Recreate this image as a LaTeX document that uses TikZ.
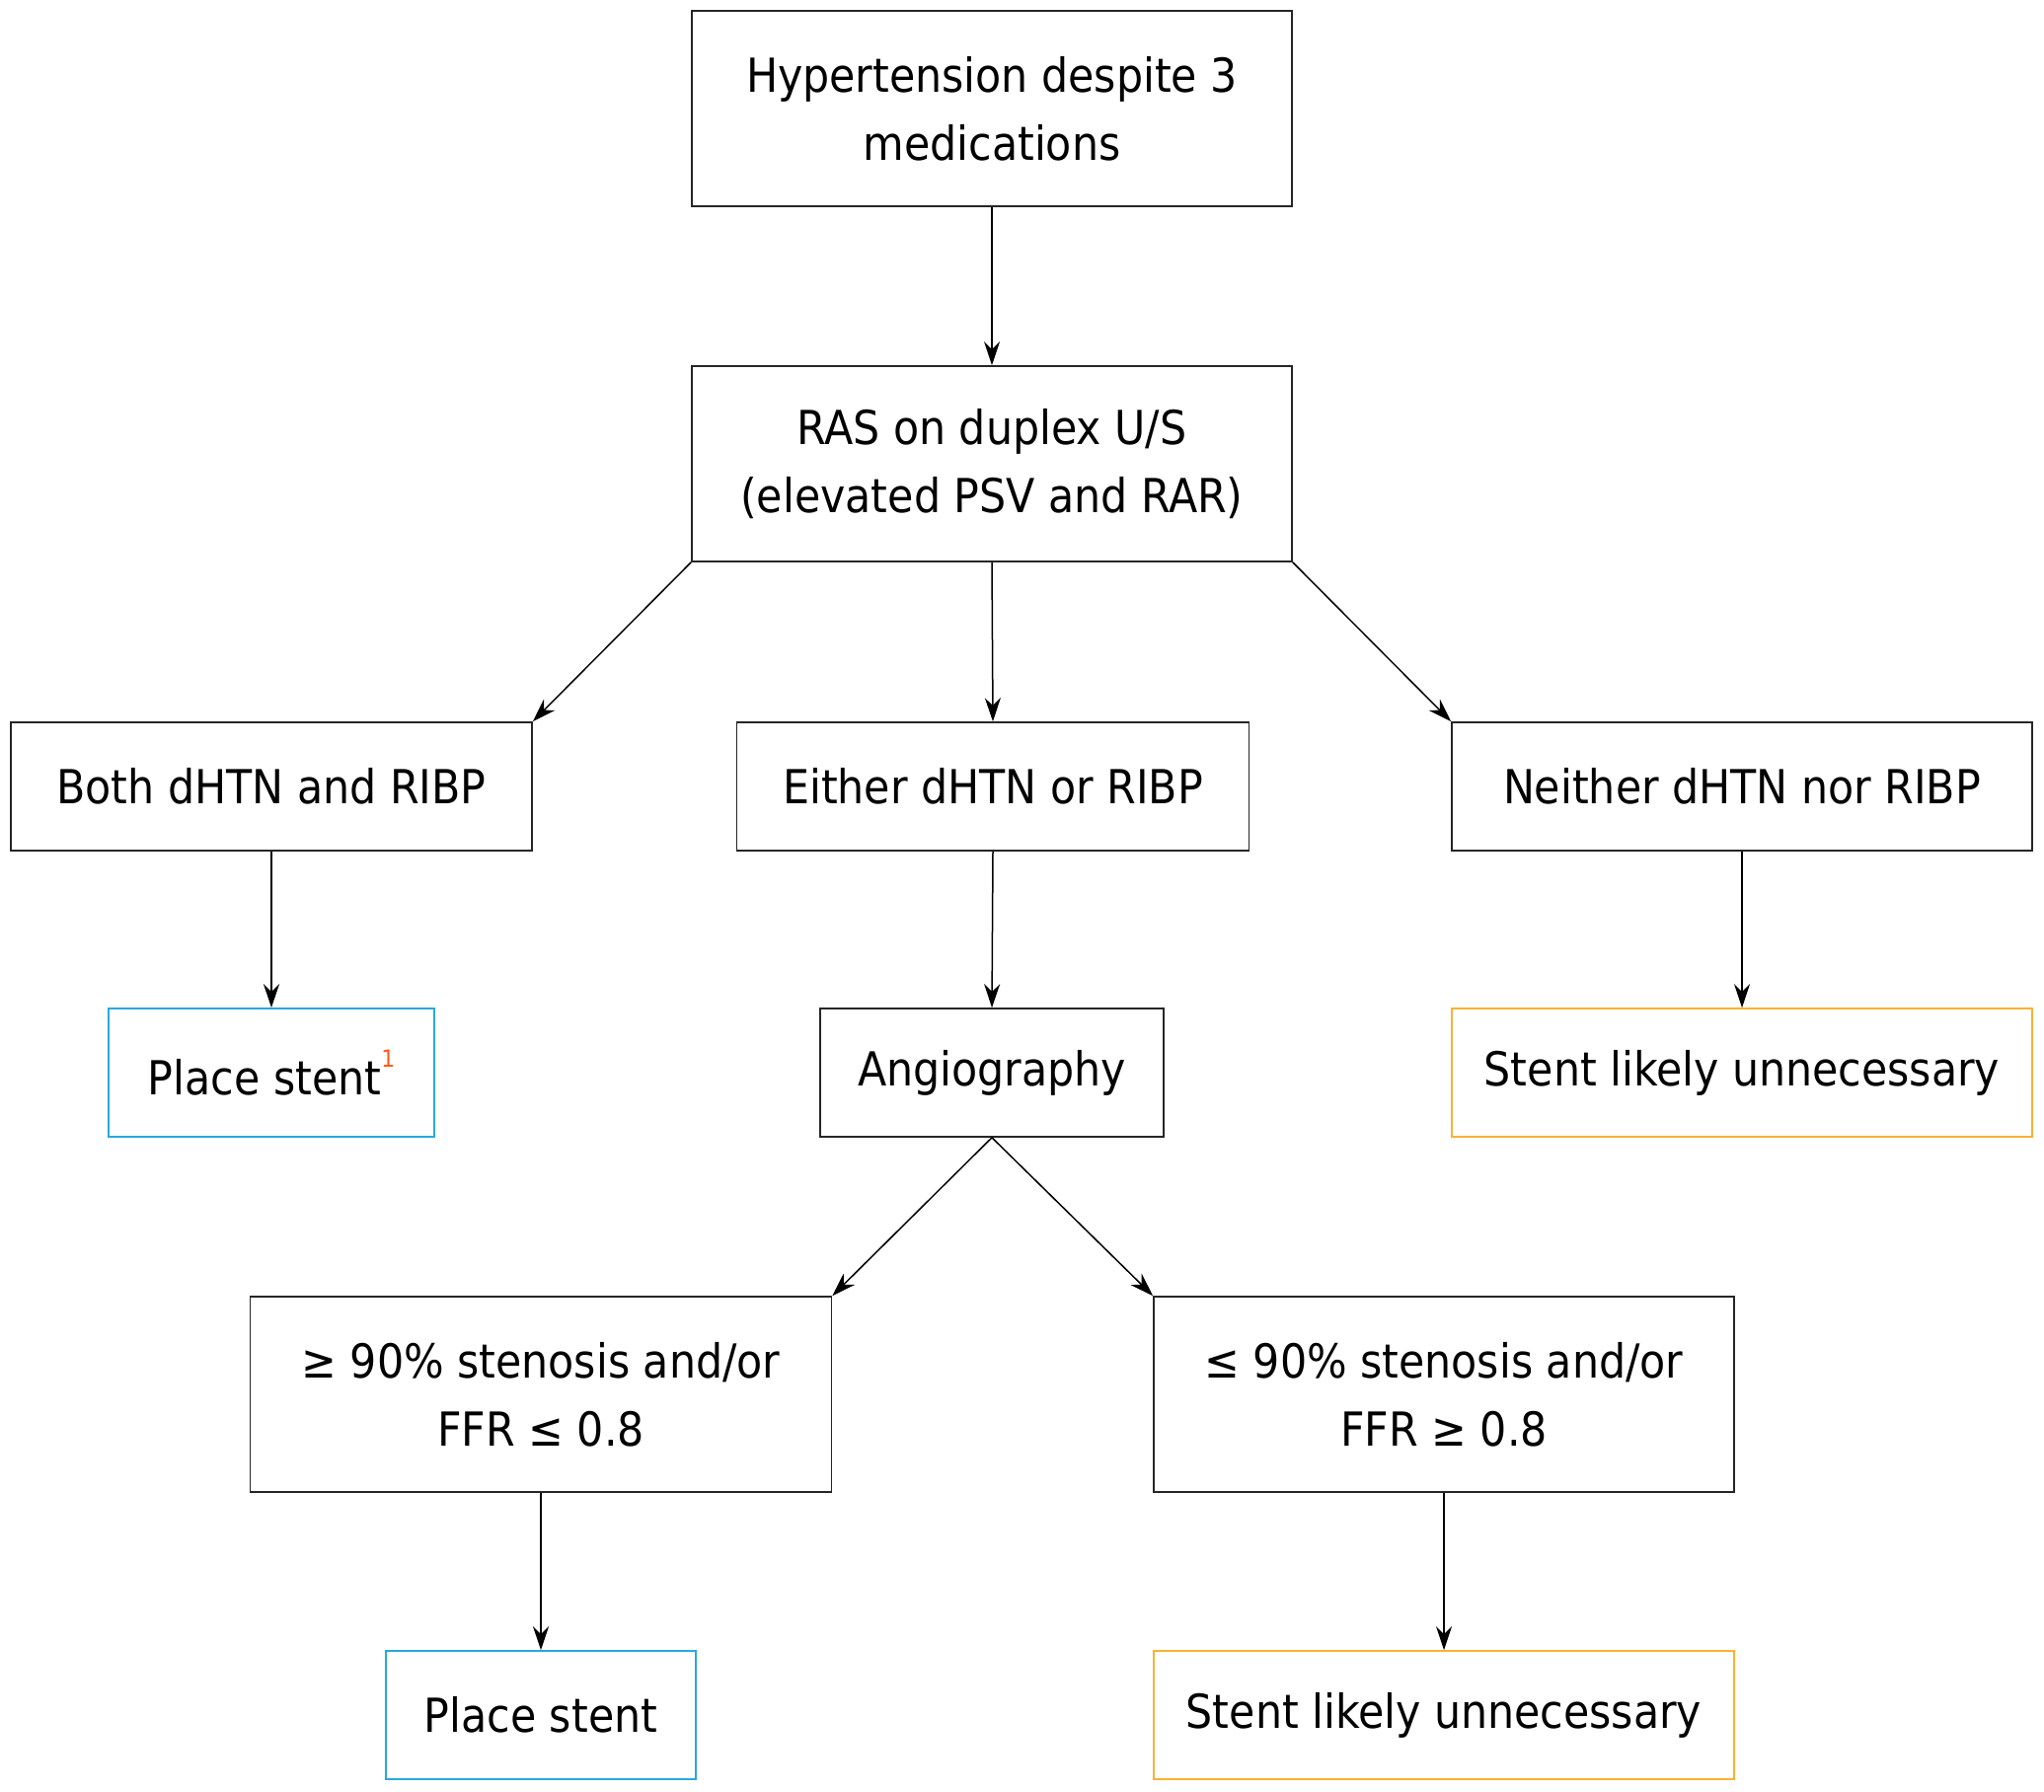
\documentclass[tikz,border=0pt]{standalone}
\usepackage{fontspec}
\setmainfont{DejaVu Sans Condensed}
\usetikzlibrary{arrows.meta}
\definecolor{bluebox}{HTML}{29A8E0}
\definecolor{orangebox}{HTML}{F9B233}
\definecolor{supcol}{HTML}{FF5A1A}
\begin{document}
\begin{tikzpicture}[x=1pt,y=-1pt,
  box/.style={draw=black!85,line width=1.6pt,rectangle,inner sep=0pt,align=center,
    font=\fontsize{47.5}{69}\selectfont},
  bluebx/.style={box,draw=bluebox},
  orbx/.style={box,draw=orangebox},
  arr/.style={-{Stealth[length=24pt,width=16pt]},line width=1.5pt,black}]
\fill[white] (0,0) rectangle (2071,1815);
\useasboundingbox (0,0) rectangle (2071,1815);
\node[box,minimum width=608pt,minimum height=198pt] (top) at (1005,110) {Hypertension despite 3\\medications};
\node[box,minimum width=608pt,minimum height=198pt] (ras) at (1005,470) {RAS on duplex U/S\\(elevated PSV and RAR)};
\node[box,minimum width=528pt,minimum height=130pt] (both) at (275,797) {Both dHTN and RIBP};
\node[box,minimum width=519pt,minimum height=130pt] (either) at (1006,797) {Either dHTN or RIBP};
\node[box,minimum width=588pt,minimum height=130pt] (neither) at (1765,797) {Neither dHTN nor RIBP};
\node[bluebx,minimum width=330pt,minimum height=130pt] (stent1) at (275,1087) {Place stent\raisebox{0.6em}{\fontsize{24}{24}\selectfont\color{supcol}1}};
\node[box,minimum width=348pt,minimum height=130pt] (angio) at (1005,1087) {Angiography};
\node[orbx,minimum width=588pt,minimum height=130pt] (unn1) at (1765,1087) {Stent likely unnecessary};
\node[box,minimum width=589pt,minimum height=198pt] (ge) at (548,1413) {≥ 90\% stenosis and/or\\FFR ≤ 0.8};
\node[box,minimum width=588pt,minimum height=198pt] (le) at (1463,1413) {≤ 90\% stenosis and/or\\FFR ≥ 0.8};
\node[bluebx,minimum width=314pt,minimum height=130pt] (stent2) at (548,1738) {Place stent};
\node[orbx,minimum width=588pt,minimum height=130pt] (unn2) at (1463,1738) {Stent likely unnecessary};
\draw[arr] (top.south) -- (ras.north);
\draw[arr] (ras.south west) -- (both.north east);
\draw[arr] (ras.south) -- (either.north);
\draw[arr] (ras.south east) -- (neither.north west);
\draw[arr] (both.south) -- (stent1.north);
\draw[arr] (either.south) -- (angio.north);
\draw[arr] (neither.south) -- (unn1.north);
\draw[arr] (angio.south) -- (ge.north east);
\draw[arr] (angio.south) -- (le.north west);
\draw[arr] (ge.south) -- (stent2.north);
\draw[arr] (le.south) -- (unn2.north);
\end{tikzpicture}
\end{document}
